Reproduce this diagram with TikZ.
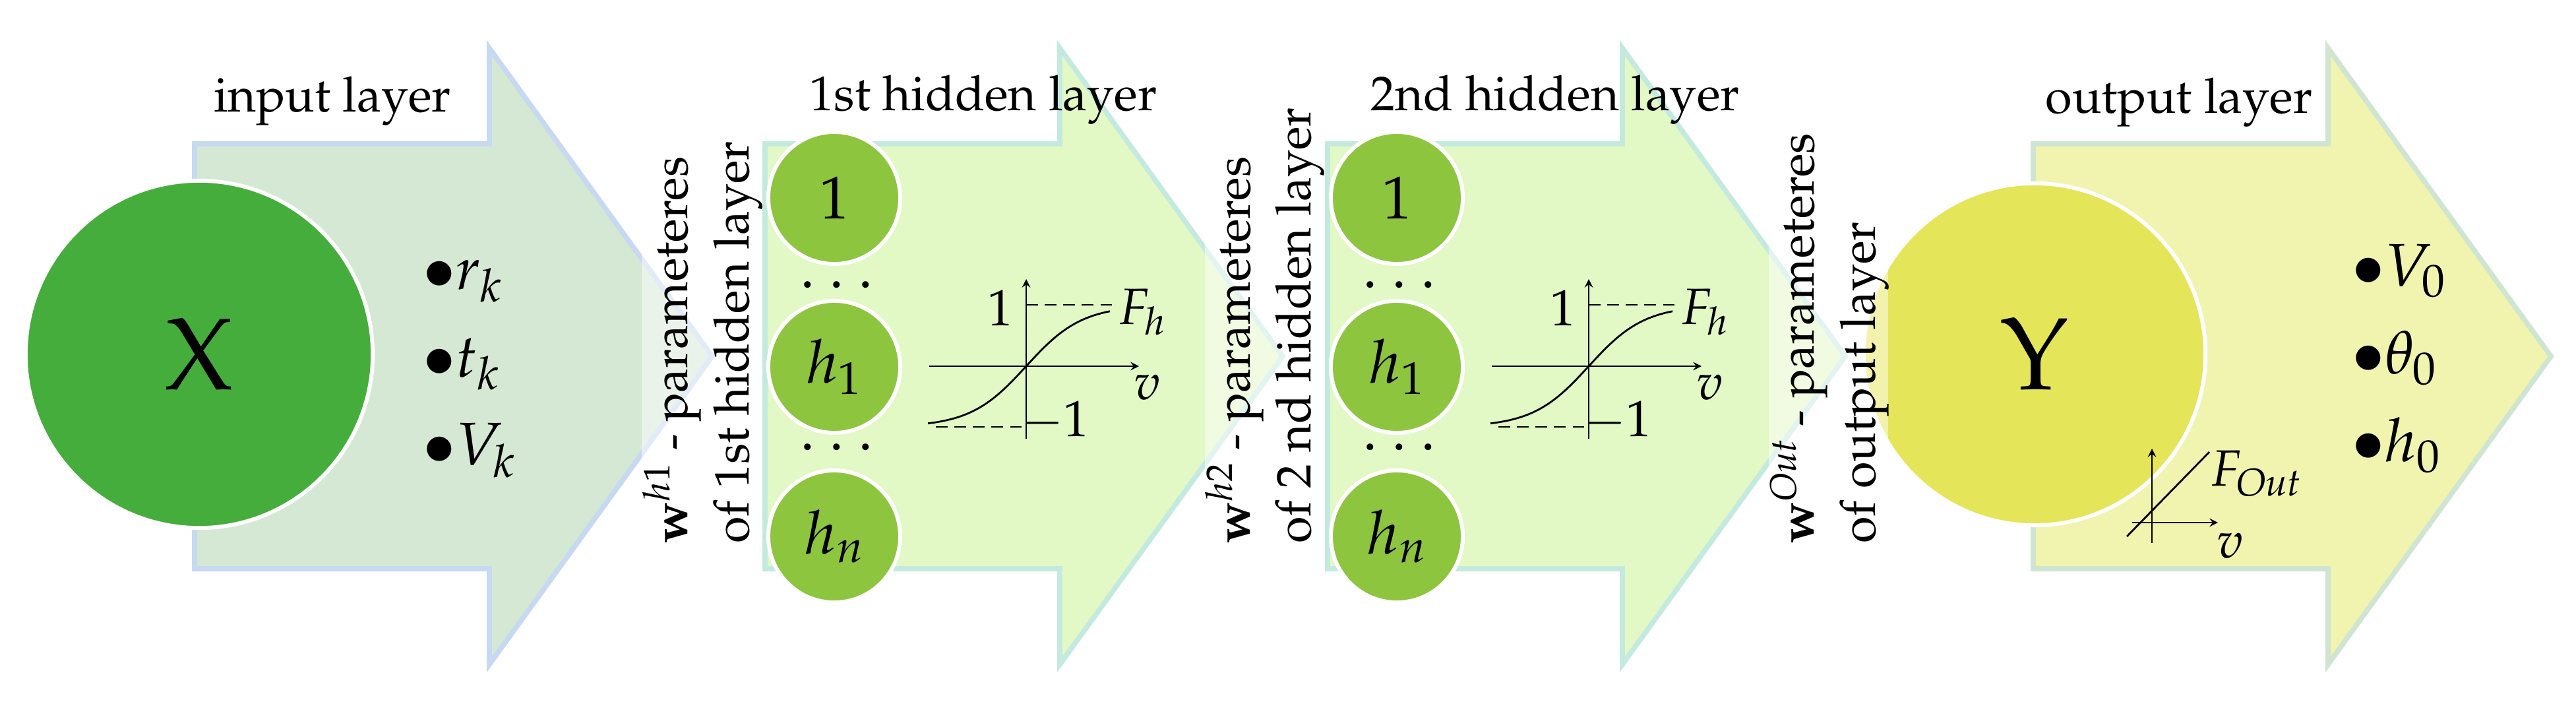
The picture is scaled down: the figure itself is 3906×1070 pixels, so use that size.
\documentclass[tikz,border=0pt]{standalone}
\usepackage[T1]{fontenc}
\usepackage{mathpazo}
\definecolor{inFill}{HTML}{D5E8D4}
\definecolor{inEdge}{HTML}{C6D9F1}
\definecolor{hidFill}{HTML}{E2F8C5}
\definecolor{hidEdge}{HTML}{C4EADF}
\definecolor{outFill}{HTML}{F0F4AE}
\definecolor{outEdge}{HTML}{CFE5D2}
\definecolor{xGreen}{HTML}{45AD3C}
\definecolor{hGreen}{HTML}{8DC53F}
\definecolor{yYellow}{HTML}{E5E55A}
\begin{document}
\begin{tikzpicture}[x=.01cm,y=-.01cm,>=stealth,line width=.6pt,
  layerarrow/.style={line width=2.2pt,line join=miter},
  bignode/.style={circle,draw=white,line width=1.7pt,inner sep=0pt,minimum size=5.26cm,font=\fontsize{44}{50}\selectfont},
  neuron/.style={circle,fill=hGreen,draw=white,line width=1.7pt,inner sep=0pt,minimum size=2.0cm,font=\fontsize{26}{30}\selectfont},
  dotsrow/.style={anchor=base,inner sep=0pt,font=\fontsize{26}{30}\selectfont},
  layertitle/.style={anchor=base,font=\fontsize{21}{26}\selectfont},
  weighttext/.style={rotate=90,anchor=base west,inner sep=0pt,font=\fontsize{21}{26}\selectfont},
  bulletitem/.style={anchor=base west,inner sep=0pt,font=\fontsize{26}{30}\selectfont},
  plotlbl/.style={font=\fontsize{22}{26}\selectfont},
  veil/.style={fill=white,fill opacity=.5}]
  \useasboundingbox (0,0) rectangle (3906,1070);
  % layer arrows
  \filldraw[layerarrow,fill=inFill,draw=inEdge] (295,218)--(742,218)--(742,73)--(1080,540)--(742,1007)--(742,862)--(295,862)--cycle;
  \filldraw[layerarrow,fill=hidFill,draw=hidEdge] (1160,218)--(1607,218)--(1607,73)--(1945,540)--(1607,1007)--(1607,862)--(1160,862)--cycle;
  \filldraw[layerarrow,fill=hidFill,draw=hidEdge] (2013,218)--(2460,218)--(2460,73)--(2798,540)--(2460,1007)--(2460,862)--(2013,862)--cycle;
  \filldraw[layerarrow,fill=outFill,draw=outEdge] (3083,218)--(3530,218)--(3530,73)--(3868,540)--(3530,1007)--(3530,862)--(3083,862)--cycle;
  % input
  \node[bignode,fill=xGreen] (X) at (302,537) {X};
  \node[bulletitem] (rk) at (640,438) {$\bullet r_k$};
  \node[bulletitem] (tk) at (640,571) {$\bullet t_k$};
  \node[bulletitem] (Vk) at (640,704) {$\bullet V_k$};
  % 1st hidden layer
  \node[neuron] (a1) at (1265,300) {$1$};
  \node[neuron] (a2) at (1265,556) {$h_1$};
  \node[neuron] (a3) at (1265,813) {$h_n$};
  \node[dotsrow] (adots1) at (1269,455) {$\cdots$};
  \node[dotsrow] (adots2) at (1269,701) {$\cdots$};
  \draw[dash pattern=on 5pt off 3pt] (1556,462)--(1688,462);
  \draw[dash pattern=on 5pt off 3pt] (1419,647)--(1556,647);
  \draw[->] (1409,555)--(1727,555);
  \draw[->] (1556,665)--(1556,423);
  \draw[line width=.8pt] plot[domain=-149:127,samples=60] ({1556+\x},{555-92*tanh(0.0118*\x)});
  \node[plotlbl] (aone) at (1517,467) {$1$};
  \node[plotlbl] (amone) at (1600,638) {$-1$};
  \node[plotlbl,anchor=west,inner sep=0pt] (aF) at (1695,473) {$F_h$};
  \node[plotlbl] (av) at (1740,587) {$v$};
  % 2nd hidden layer
  \node[neuron] (b1) at (2118,300) {$1$};
  \node[neuron] (b2) at (2118,556) {$h_1$};
  \node[neuron] (b3) at (2118,813) {$h_n$};
  \node[dotsrow] (bdots1) at (2122,455) {$\cdots$};
  \node[dotsrow] (bdots2) at (2122,701) {$\cdots$};
  \draw[dash pattern=on 5pt off 3pt] (2409,462)--(2541,462);
  \draw[dash pattern=on 5pt off 3pt] (2272,647)--(2409,647);
  \draw[->] (2262,555)--(2580,555);
  \draw[->] (2409,665)--(2409,423);
  \draw[line width=.8pt] plot[domain=-149:127,samples=60] ({2409+\x},{555-92*tanh(0.0118*\x)});
  \node[plotlbl] (bone) at (2370,467) {$1$};
  \node[plotlbl] (bmone) at (2453,638) {$-1$};
  \node[plotlbl,anchor=west,inner sep=0pt] (bF) at (2548,473) {$F_h$};
  \node[plotlbl] (bv) at (2593,587) {$v$};
  % output
  \node[bignode,fill=yYellow,minimum size=5.18cm] (Y) at (3085,537) {Y};
  \draw[->] (3263,823)--(3263,680);
  \draw[->] (3233,792)--(3363,792);
  \draw[line width=.8pt] (3225,813)--(3350,685);
  \node[plotlbl,anchor=west,inner sep=0pt] (yF) at (3350,718) {$F_{\mathit{Out}}$};
  \node[plotlbl] (yv) at (3382,827) {$v$};
  \node[bulletitem] (V0) at (3565,433) {$\bullet V_0$};
  \node[bulletitem] (th0) at (3565,566) {$\bullet \theta_0$};
  \node[bulletitem] (h0) at (3565,699) {$\bullet h_0$};
  % titles
  \node[layertitle] (tIn) at (504,170) {input layer};
  \node[layertitle] (tH1) at (1491,168) {1st hidden layer};
  \node[layertitle] (tH2) at (2358,168) {2nd hidden layer};
  \node[layertitle] (tOut) at (3304,172) {output layer};
  % weights between layers
  \fill[veil] (973,195) rectangle (1155,845);
  \node[weighttext] (w1a) at (1042,825) {$\mathbf{w}^{h1}$ - parameteres};
  \node[weighttext] (w1b) at (1135,825) {of 1st hidden layer};
  \fill[veil] (1827,195) rectangle (2008,845);
  \node[weighttext] (w2a) at (1895,825) {$\mathbf{w}^{h2}$ - parameteres};
  \node[weighttext] (w2b) at (1987,825) {of 2 nd hidden layer};
  \fill[veil] (2682,195) rectangle (2863,845);
  \node[weighttext] (w3a) at (2750,825) {$\mathbf{w}^{\mathit{Out}}$ - parameteres};
  \node[weighttext] (w3b) at (2843,825) {of output layer};
\end{tikzpicture}
\end{document}
